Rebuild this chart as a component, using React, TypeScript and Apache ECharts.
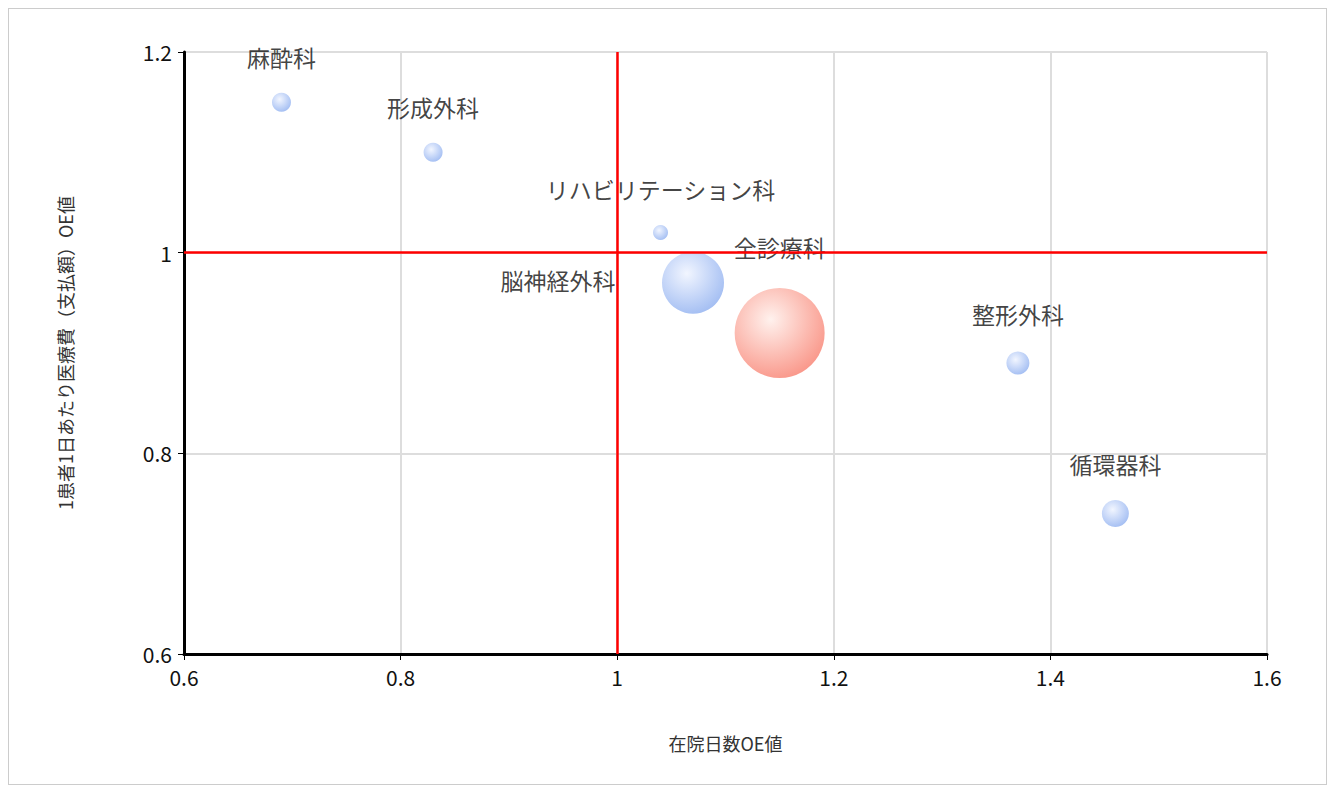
import React, { useEffect, useRef } from 'react';
import * as echarts from 'echarts';

const names = ['麻酔科', '形成外科', 'リハビリテーション科', '脳神経外科', '全診療科', '整形外科', '循環器科'];
const xValues = [0.69, 0.83, 1.04, 1.07, 1.15, 1.37, 1.46];
const yValues = [1.15, 1.1, 1.02, 0.97, 0.92, 0.89, 0.74];
const sizes = [19, 19, 15, 62, 90, 23, 27];
const labelOffsets = [[0, -45], [0, -45], [0, -44], [-135, -3], [0, -86], [0, -49], [0, -50]];

const blue = {
  type: 'radial', x: 0.4, y: 0.35, r: 0.7,
  colorStops: [{ offset: 0, color: '#eef3ff' }, { offset: 1, color: '#8aacef' }],
};
const red = {
  type: 'radial', x: 0.4, y: 0.35, r: 0.7,
  colorStops: [{ offset: 0, color: '#ffeee9' }, { offset: 1, color: '#f87b6a' }],
};

const App = () => {
  const chartRef = useRef(null);

  useEffect(() => {
    const chart = echarts.init(chartRef.current, null, { renderer: 'svg' });
    const font = 'Noto Sans CJK JP';
    chart.setOption({
      animation: false,
      textStyle: { fontFamily: font },
      grid: { left: 175, right: 59, top: 43, bottom: 130 },
      xAxis: {
        type: 'value', min: 0.6, max: 1.6, interval: 0.2,
        name: '在院日数OE値', nameLocation: 'middle', nameGap: 80,
        nameTextStyle: { fontSize: 18, color: '#333' },
        axisLine: { lineStyle: { color: '#000', width: 3 } },
        axisTick: { show: true, length: 6, lineStyle: { color: '#000' } },
        axisLabel: { fontSize: 21, color: '#111', margin: 12 },
        splitLine: { lineStyle: { color: '#ddd', width: 2 } },
      },
      yAxis: {
        type: 'value', min: 0.6, max: 1.2, interval: 0.2,
        name: '1患者1日あたり医療費（支払額）OE値', nameLocation: 'middle', nameGap: 110,
        nameTextStyle: { fontSize: 18, color: '#333' },
        axisLine: { show: true, lineStyle: { color: '#000', width: 3 } },
        axisTick: { show: true, length: 6, lineStyle: { color: '#000' } },
        axisLabel: { fontSize: 21, color: '#111', margin: 12 },
        splitLine: { lineStyle: { color: '#ddd', width: 2 } },
      },
      series: [{
        type: 'scatter',
        data: names.map((n, i) => ({
          name: n,
          value: [xValues[i], yValues[i]],
          symbolSize: sizes[i],
          itemStyle: { color: n === '全診療科' ? red : blue },
          label: { offset: labelOffsets[i] },
        })),
        label: {
          show: true, position: 'inside', formatter: '{b}',
          fontSize: 23, color: '#111',
        },
        markLine: {
          silent: true, symbol: 'none', label: { show: false },
          lineStyle: { color: '#f00', width: 2.5, type: 'solid' },
          data: [{ xAxis: 1 }, { yAxis: 1 }],
        },
      }],
    });
    return () => chart.dispose();
  }, []);

  return (
    <div style={{ width: 1317, height: 775, border: '1px solid #ccc', background: '#fff' }}>
      <div ref={chartRef} style={{ width: 1317, height: 775 }} />
    </div>
  );
};

export default App;
